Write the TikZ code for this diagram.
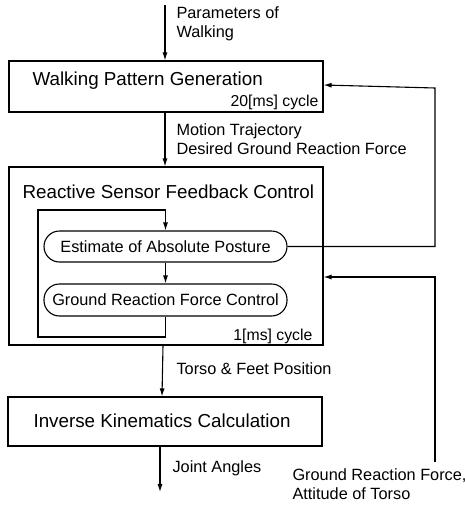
\documentclass[tikz,border=0pt]{standalone}
\usepackage{fontspec}
\setmainfont{Liberation Sans}
\usetikzlibrary{arrows.meta}
\begin{document}
\begin{tikzpicture}[x=1pt,y=-1pt,
  line width=1.1pt,
  flow/.style={-{Latex[length=8pt,width=5pt]}},
  blockbox/.style={draw,minimum width=314pt,inner sep=0pt},
  pill/.style={draw,rounded corners=15.5pt,minimum width=243pt,minimum height=31pt,inner sep=0pt,
    font=\fontsize{16.3}{19}\selectfont},
  title/.style={anchor=west,inner sep=0pt,font=\fontsize{18.8}{22}\selectfont},
  note/.style={anchor=west,inner sep=0pt,align=left,font=\fontsize{16.3}{19}\selectfont},
  cycle/.style={anchor=base east,inner sep=0pt,font=\fontsize{15.8}{18}\selectfont}]
\useasboundingbox (0,0) rectangle (465,506);

% main blocks
\node[blockbox,minimum height=51pt] (wpg) at (166,86.5) {};
\node[blockbox,minimum height=178pt] (rsf) at (166,256) {};
\node[blockbox,minimum height=49pt] (ikc) at (165,421.5) {};

\node[title] (wpgt) at (32,81) {Walking Pattern Generation};
\node[cycle] (wpgc) at (319,106) {20[ms] cycle};
\node[title] (rsft) at (22,192) {Reactive Sensor Feedback Control};
\node[cycle] (rsfc) at (313,340) {1[ms] cycle};
\node[title] (ikct) at (33,421) {Inverse Kinematics Calculation};

% inner loop blocks
\node[pill] (eap) at (165.5,246.5) {Estimate of Absolute Posture};
\node[pill,minimum height=32pt] (grf) at (165.5,300) {Ground Reaction Force Control};

% signal labels
\node[note] (lpar) at (176,24) {Parameters of\\Walking};
\node[note] (lmot) at (176,139.5) {Motion Trajectory\\Desired Ground Reaction Force};
\node[note] (ltor) at (176,369) {Torso \& Feet Position};
\node[note] (ljoi) at (172,468) {Joint Angles};
\node[note] (lsen) at (292,484) {Ground Reaction Force,\\Attitude of Torso};

\coordinate (in) at (165,5);
\coordinate (out) at (160,492);
\coordinate (sen) at (435,462);
\coordinate (senturn) at (435,277);
\coordinate (loopL) at (38,337);
\coordinate (loopT) at (38,210);

% forward path
\draw[flow] (in) -- (wpg.north -| in);
\draw[flow] (wpg.south -| in) -- (rsf.north -| in);
\draw[flow] ([xshift=-3pt]rsf.south) -- ([xshift=-3pt]ikc.north);
\draw[flow] (ikc.south -| out) -- (out);

% 1 ms inner loop
\draw (grf.south) -- (grf.south |- loopL) -- (loopL) -- (loopT) -- (loopT -| eap.north);
\draw[flow] (loopT -| eap.north) -- (eap.north);
\draw[flow] (eap) -- (grf);

% feedback paths
\draw[flow] (eap.east) -- (eap.east -| sen) -- (sen |- 0,88) -- ([yshift=1.5pt]wpg.east);
\draw[flow] (sen) -- (senturn) -- (senturn -| rsf.east);
\end{tikzpicture}
\end{document}
